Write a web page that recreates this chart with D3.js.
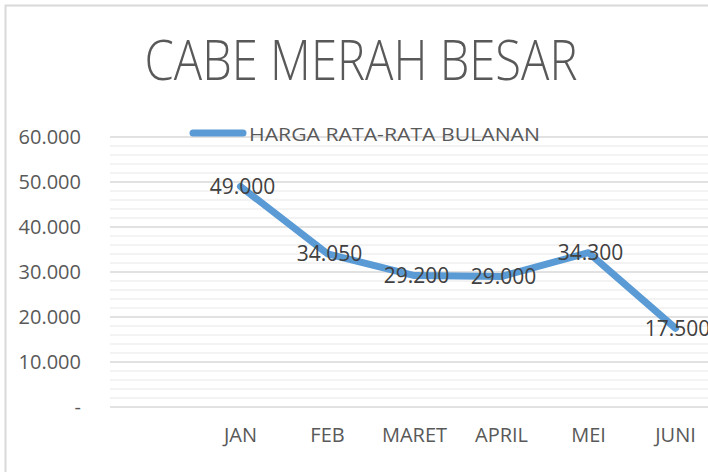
<!DOCTYPE html>
<html>
<head>
<meta charset="utf-8">
<title>Cabe Merah Besar</title>
<style>
    body, html { margin: 0; padding: 0; background: #fff; }
    text { font-family: "Open Sans", sans-serif; }
</style>
</head>
<body>
<div id="chart"></div>
<script src="https://d3js.org/d3.v7.min.js"></script>
<script>
    // first slot is an empty category, as in the original sheet
    var categories = ["", "JAN", "FEB", "MARET", "APRIL", "MEI", "JUNI"];
    var prices = [null, 49000, 34050, 29200, 29000, 34300, 17500];
    var yTicks = [0, 10000, 20000, 30000, 40000, 50000, 60000];
    var seriesName = "HARGA RATA-RATA BULANAN";
    var chartTitle = "CABE MERAH BESAR";

    var width = 708;
    var height = 472;
    var lineColor = "#5b9bd5";

    var svg = d3.select('#chart')
        .append('svg')
        .attr('width', width)
        .attr('height', height);

    // outer chart border (left and top visible)
    svg.append('rect')
        .attr('x', 5.5)
        .attr('y', 5.5)
        .attr('width', width + 20)
        .attr('height', height + 20)
        .attr('fill', 'none')
        .attr('stroke', '#d9d9d9')
        .attr('stroke-width', 2);

    var x = d3.scaleBand()
        .domain(categories)
        .range([110, 110 + 7 * 87]);

    var y = d3.scaleLinear()
        .domain([0, 60000])
        .range([407, 137]);

    var fmt = function(v) {
        return v === 0 ? '-' : d3.format(',')(v).replace(/,/g, '.');
    };

    // minor gridlines
    svg.append('g')
        .selectAll('line')
        .data(d3.range(0, 60001, 2000).filter(function(v) { return v % 10000 !== 0; }))
        .enter()
        .append('line')
        .attr('x1', 110).attr('x2', width)
        .attr('y1', function(d) { return y(d); })
        .attr('y2', function(d) { return y(d); })
        .attr('stroke', '#efefef')
        .attr('stroke-width', 1.5);

    // major gridlines
    svg.append('g')
        .selectAll('line')
        .data(yTicks)
        .enter()
        .append('line')
        .attr('x1', 110).attr('x2', width)
        .attr('y1', function(d) { return y(d); })
        .attr('y2', function(d) { return y(d); })
        .attr('stroke', '#d9d9d9')
        .attr('stroke-width', 1.5);

    // y axis labels
    var yAxis = d3.axisLeft(y)
        .tickValues(yTicks)
        .tickFormat(fmt)
        .tickSize(0)
        .tickPadding(0);

    svg.append('g')
        .attr('transform', 'translate(81,0)')
        .call(yAxis)
        .call(function(g) { g.select('.domain').remove(); })
        .selectAll('text')
        .attr('fill', '#595959')
        .style('font-size', '20px')
        .style('font-family', '"Open Sans", sans-serif');

    // x axis labels
    var xAxis = d3.axisBottom(x)
        .tickSize(0)
        .tickPadding(0);

    svg.append('g')
        .attr('transform', 'translate(0,428)')
        .call(xAxis)
        .call(function(g) { g.select('.domain').remove(); })
        .selectAll('text')
        .attr('fill', '#595959')
        .style('font-size', '20px')
        .style('font-family', '"Open Sans", sans-serif');

    // series line
    var line = d3.line()
        .defined(function(d) { return d != null; })
        .x(function(d, i) { return x(categories[i]) + x.bandwidth() / 2; })
        .y(function(d) { return y(d); });

    svg.append('path')
        .datum(prices)
        .attr('d', line)
        .attr('fill', 'none')
        .attr('stroke', lineColor)
        .attr('stroke-width', 7)
        .attr('stroke-linejoin', 'round')
        .attr('stroke-linecap', 'round');

    // data labels
    svg.append('g')
        .selectAll('text')
        .data(prices.map(function(v, i) { return {v: v, c: categories[i]}; })
            .filter(function(d) { return d.v != null; }))
        .enter()
        .append('text')
        .attr('x', function(d) { return x(d.c) + x.bandwidth() / 2 + 2; })
        .attr('y', function(d) { return y(d.v); })
        .attr('dy', '0.35em')
        .attr('text-anchor', 'middle')
        .attr('fill', '#404040')
        .style('font-size', '21px')
        .text(function(d) { return fmt(d.v); });

    // legend
    svg.append('line')
        .attr('x1', 193).attr('x2', 243)
        .attr('y1', 133).attr('y2', 133)
        .attr('stroke', lineColor)
        .attr('stroke-width', 7)
        .attr('stroke-linecap', 'round');

    svg.append('text')
        .attr('x', 249)
        .attr('y', 141)
        .attr('fill', '#595959')
        .style('font-size', '19px')
        .attr('textLength', 291)
        .attr('lengthAdjust', 'spacingAndGlyphs')
        .text(seriesName);

    // title
    svg.append('text')
        .attr('x', 361)
        .attr('y', 80)
        .attr('text-anchor', 'middle')
        .attr('fill', '#595959')
        .style('font-size', '55px')
        .style('font-weight', 300)
        .attr('textLength', 433)
        .attr('lengthAdjust', 'spacingAndGlyphs')
        .text(chartTitle);
</script>
</body>
</html>
